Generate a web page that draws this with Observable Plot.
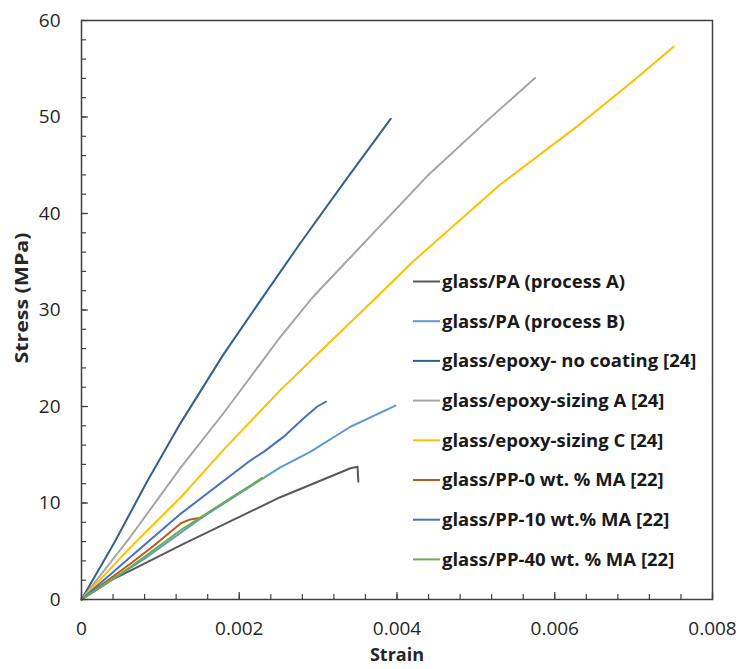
<!DOCTYPE html>
<html><head><meta charset="utf-8">
<script src="https://cdn.jsdelivr.net/npm/d3@7"></script>
<script src="https://cdn.jsdelivr.net/npm/@observablehq/plot@0.6"></script>
<style>body{margin:0;background:#fff;} #chart{width:741px;height:669px;}</style>
</head><body><div id="chart"></div>
<script>
// ---- data ----
const seriesNames = [
  "glass/PA (process A)",
  "glass/PA (process B)",
  "glass/epoxy- no coating [24]",
  "glass/epoxy-sizing A [24]",
  "glass/epoxy-sizing C [24]",
  "glass/PP-0 wt. % MA [22]",
  "glass/PP-10 wt.% MA [22]",
  "glass/PP-40 wt. % MA [22]"
];
const seriesColors = ["#595959","#5B9BD5","#2F6090","#A5A5A5","#FFC000","#B65A22","#4472C4","#70AD47"];

const paA_strain = [0, 0.00041, 0.00062, 0.0013, 0.00214, 0.00252, 0.00341, 0.00350, 0.00351];
const paA_stress = [0, 2.15, 3.0, 5.8, 9.1, 10.6, 13.6, 13.75, 12.2];

const paB_strain = [0, 0.00083, 0.00151, 0.00227, 0.00252, 0.0029, 0.00341, 0.00398];
const paB_stress = [0, 4.4, 8.4, 12.4, 13.7, 15.3, 17.9, 20.1];

const noCoat_strain = [0, 0.00041, 0.00083, 0.00125, 0.0018, 0.00227, 0.00278, 0.00337, 0.00392];
const noCoat_stress = [0, 5.8, 12.2, 18.2, 25.4, 31.0, 37.0, 43.7, 49.8];

const sizA_strain = [0, 0.00062, 0.00126, 0.0018, 0.00252, 0.00294, 0.00438, 0.00514, 0.00575];
const sizA_stress = [0, 6.5, 13.7, 19.3, 27.2, 31.4, 43.85, 49.6, 54.05];

const sizC_strain = [0, 0.00062, 0.00126, 0.0018, 0.00252, 0.0030, 0.00375, 0.0042, 0.00531, 0.00628, 0.00696, 0.00751];
const sizC_stress = [0, 5.4, 10.6, 15.5, 21.7, 25.5, 31.4, 35.0, 43.0, 49.0, 53.5, 57.3];

const pp0_strain = [0, 0.00062, 0.00092, 0.00126, 0.00138, 0.00153];
const pp0_stress = [0, 3.7, 5.6, 7.9, 8.3, 8.5];

const pp10_strain = [0, 0.00062, 0.00126, 0.00214, 0.00231, 0.00256, 0.00282, 0.00299, 0.0031];
const pp10_stress = [0, 4.4, 8.9, 14.4, 15.3, 16.85, 18.8, 20.0, 20.5];

const pp40_strain = [0, 0.00062, 0.00126, 0.00185, 0.00229];
const pp40_stress = [0, 3.35, 7.2, 10.3, 12.6];

const xTicks = [0, 0.002, 0.004, 0.006, 0.008];
const xTickLabels = ["0", "0.002", "0.004", "0.006", "0.008"];
const xMinorTicks = d3.range(0, 0.00801, 0.0004);
const yTicks = [0, 10, 20, 30, 40, 50, 60];
const yTickLabels = ["0", "10", "20", "30", "40", "50", "60"];
const yMinorTicks = d3.range(0, 60.01, 2);

// ---- build table ----
const seriesData = [
  [paA_strain, paA_stress], [paB_strain, paB_stress], [noCoat_strain, noCoat_stress],
  [sizA_strain, sizA_stress], [sizC_strain, sizC_stress], [pp0_strain, pp0_stress],
  [pp10_strain, pp10_stress], [pp40_strain, pp40_stress]
];
const rows = [];
seriesData.forEach(([xs, ys], i) => xs.forEach((x, j) => rows.push({series: seriesNames[i], strain: x, stress: ys[j]})));

const W = 741, H = 669, mL = 81, mR = 29, mT = 20, mB = 70;
const fw = W - mL - mR, fh = H - mT - mB;
const axisColor = "#404040";
const FONT = "'Open Sans', Lato, sans-serif";

const plot = Plot.plot({
  width: W, height: H,
  marginLeft: mL, marginRight: mR, marginTop: mT, marginBottom: mB,
  style: {fontFamily: FONT, fontSize: "19px", color: "#262626", background: "#fff"},
  x: {domain: [0, 0.008]},
  y: {domain: [0, 60]},
  color: {domain: seriesNames, range: seriesColors},
  marks: [
    Plot.line(rows, {x: "strain", y: "stress", z: "series", stroke: "series", strokeWidth: 2}),
    Plot.ruleX(xMinorTicks, {insetTop: fh - 5, stroke: axisColor, strokeWidth: 1.2}),
    Plot.ruleX(xTicks, {insetTop: fh - 7, stroke: axisColor, strokeWidth: 1.2}),
    Plot.ruleY(yMinorTicks, {insetRight: fw - 5, stroke: axisColor, strokeWidth: 1.2}),
    Plot.ruleY(yTicks, {insetRight: fw - 7, stroke: axisColor, strokeWidth: 1.2}),
    Plot.frame({stroke: axisColor, strokeWidth: 1.5}),
    Plot.axisX(xTicks, {tickSize: 0, tickPadding: 22, label: null,
      tickFormat: d => xTickLabels[xTicks.indexOf(d)], fontSize: 19}),
    Plot.axisY(yTicks, {tickSize: 0, tickPadding: 21, label: null,
      tickFormat: d => yTickLabels[yTicks.indexOf(d)], fontSize: 19}),
    Plot.text(["Strain"], {frameAnchor: "bottom", dy: 56, lineAnchor: "middle", textAnchor: "middle",
      fontWeight: "bold", fontSize: 18, fill: "#262626"}),
    Plot.text(["Stress (MPa)"], {frameAnchor: "left", dx: -59, dy: -12, rotate: -90, textAnchor: "middle",
      lineAnchor: "middle", fontWeight: "bold", fontSize: 18, fill: "#262626", className: "ytitle"})
  ]
});

// stretch y title to the reference's length
d3.select(plot).selectAll(".ytitle text").attr("textLength", 131).attr("lengthAdjust", "spacingAndGlyphs");

// ---- legend (inside plot) ----
const svg = d3.select(plot);
const lg = svg.append("g").attr("font-family", FONT).attr("text-anchor", "start");
seriesNames.forEach((name, i) => {
  const cy = 281.5 + i * 39.7;
  lg.append("line").attr("x1", 413).attr("x2", 440).attr("y1", cy).attr("y2", cy)
    .attr("stroke", seriesColors[i]).attr("stroke-width", 2);
  lg.append("text").attr("x", 442).attr("y", cy).attr("dy", "0.35em")
    .attr("font-size", 18.5).attr("font-weight", "bold").attr("fill", "#1a1a1a").text(name);
});

document.getElementById("chart").appendChild(plot);
</script>
</body></html>
